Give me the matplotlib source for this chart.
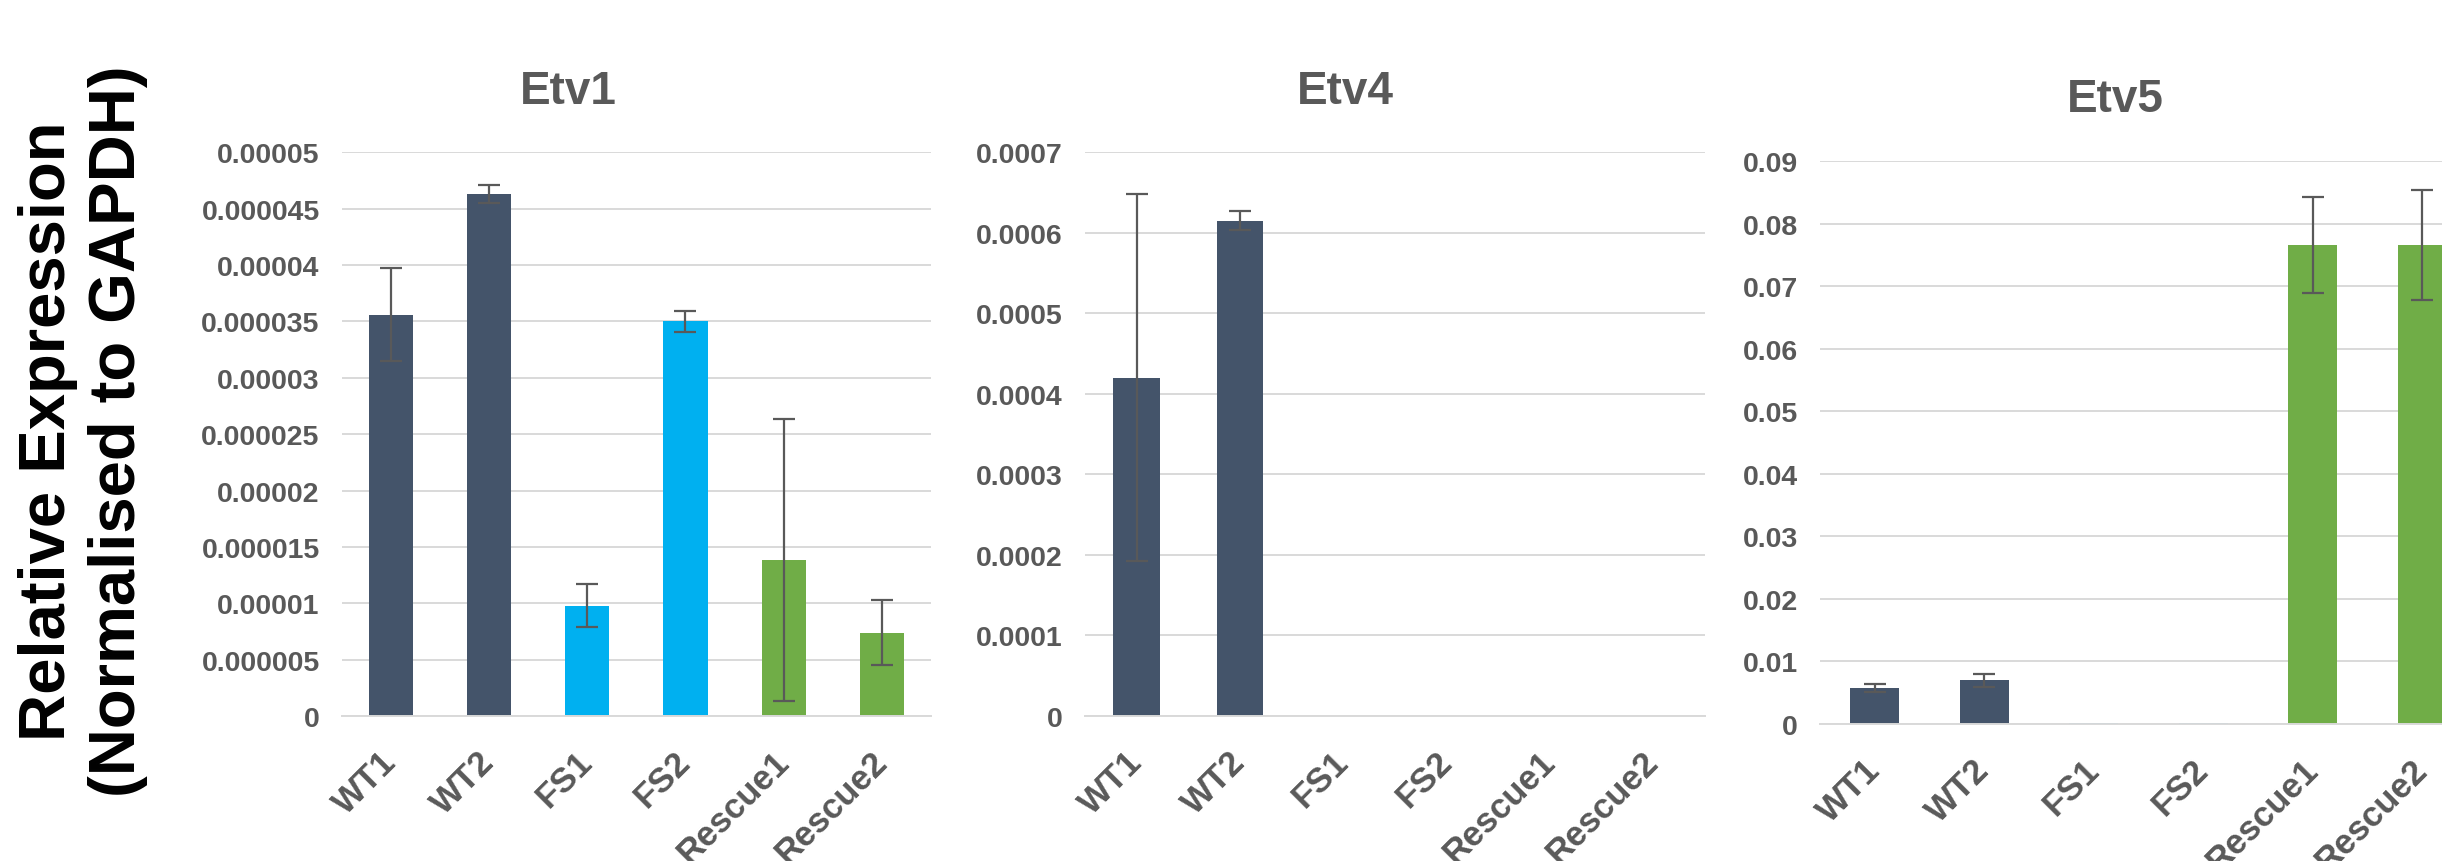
import numpy as np
import matplotlib
matplotlib.use('Agg')
import matplotlib.pyplot as plt

plt.rcParams['font.family'] = ['Liberation Sans', 'DejaVu Sans']
plt.rcParams['font.weight'] = 'bold'

# Samples and bar colours (WT = navy, FS = blue, Rescue = green)
samples = ['WT1', 'WT2', 'FS1', 'FS2', 'Rescue1', 'Rescue2']
bar_colors = ['#44546A', '#44546A', '#00B0F0', '#00B0F0', '#70AD47', '#70AD47']

# Etv1
etv1_mean = [0.0000356, 0.0000463, 0.0000098, 0.0000350, 0.0000138, 0.0000074]
etv1_err = [0.0000041, 0.0000008, 0.0000019, 0.0000009, 0.0000125, 0.0000029]
etv1_ticks = ['0', '0.000005', '0.00001', '0.000015', '0.00002', '0.000025',
              '0.00003', '0.000035', '0.00004', '0.000045', '0.00005']

# Etv4
etv4_mean = [0.000420, 0.000615, 0.0, 0.0, 0.0, 0.0]
etv4_err = [0.000228, 0.000012, 0.0, 0.0, 0.0, 0.0]
etv4_ticks = ['0', '0.0001', '0.0002', '0.0003', '0.0004', '0.0005', '0.0006', '0.0007']

# Etv5
etv5_mean = [0.0058, 0.0070, 0.0001, 0.0001, 0.0766, 0.0766]
etv5_err = [0.0006, 0.0010, 0.0, 0.0, 0.0077, 0.0088]
etv5_ticks = ['0', '0.01', '0.02', '0.03', '0.04', '0.05', '0.06', '0.07', '0.08', '0.09']

TEXT = '#595959'
GRID = '#D9D9D9'

fig = plt.figure(figsize=(24.42, 8.62), dpi=100)

# axes rectangles in figure fractions; the Etv5 panel runs past the right edge (cropped)
panels = [
    ('Etv1', etv1_mean, etv1_err, etv1_ticks, [0.1400, 0.1682, 0.2412, 0.654], (0.2326, 0.893)),
    ('Etv4', etv4_mean, etv4_err, etv4_ticks, [0.4443, 0.1682, 0.2539, 0.654], (0.5508, 0.893)),
    ('Etv5', etv5_mean, etv5_err, etv5_ticks, [0.7453, 0.1589, 0.2690, 0.653], (0.8661, 0.884)),
]

for title, mean, err, ticks, rect, title_pos in panels:
    ax = fig.add_axes(rect)
    x = np.arange(len(samples))
    mean = np.array(mean)
    err = np.array(err)
    ax.bar(x, mean, width=0.45, color=bar_colors, zorder=2)
    has_err = err > 0
    ax.errorbar(x[has_err], mean[has_err], yerr=err[has_err], fmt='none',
                ecolor='#595959', elinewidth=1.6, capsize=8, capthick=1.6, zorder=3)

    tick_vals = [float(t) for t in ticks]
    ax.set_ylim(0, tick_vals[-1])
    ax.set_yticks(tick_vals)
    ax.set_yticklabels(ticks)
    ax.set_xlim(-0.5, len(samples) - 0.5)
    ax.set_xticks(x)
    ax.set_xticklabels(samples, rotation=45, ha='right', va='center',
                       rotation_mode='anchor')

    ax.grid(axis='y', color=GRID, linewidth=1.4, zorder=0)
    ax.set_axisbelow(True)
    for side in ['top', 'right', 'left']:
        ax.spines[side].set_visible(False)
    ax.spines['bottom'].set_color(GRID)
    ax.spines['bottom'].set_linewidth(1.4)
    ax.tick_params(axis='y', length=0, pad=16, labelsize=20.5, labelcolor=TEXT)
    ax.tick_params(axis='x', length=0, pad=29, labelsize=25, labelcolor=TEXT)

    fig.text(title_pos[0], title_pos[1], title, ha='center', va='center',
             fontsize=33, color=TEXT, fontweight='bold')

fig.text(0.034, 0.50, 'Relative Expression\n(Normalised to GAPDH)', rotation=90,
         ha='center', va='center', multialignment='center',
         fontsize=47, color='black', fontweight='bold')

fig.savefig('out.png', dpi=100)
